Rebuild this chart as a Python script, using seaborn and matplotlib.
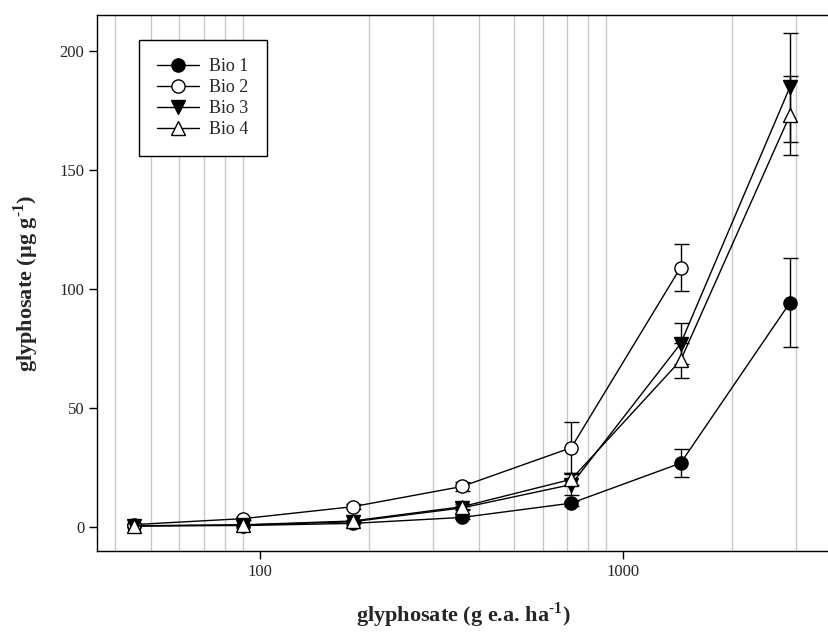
import numpy as np
import pandas as pd
import matplotlib
matplotlib.use("Agg")
import matplotlib.pyplot as plt
from matplotlib.ticker import NullFormatter, FixedLocator
import seaborn as sns

# Application rates (g e.a. ha-1)
doses = [45, 90, 180, 360, 720, 1440, 2880]

# Glyphosate content (ug g-1) and standard errors for each biotype
bio1 = [0.5, 0.6, 1.5, 4.0, 10.0, 26.8, 94.2]
bio1_err = [0.0, 0.0, 0.0, 0.8, 1.0, 5.8, 18.6]
bio2 = [1.0, 3.5, 8.5, 17.0, 33.3, 109.0]
bio2_err = [0.3, 0.5, 1.0, 2.0, 10.8, 9.8]
bio3 = [0.4, 0.8, 2.2, 8.0, 17.8, 77.0, 184.8]
bio3_err = [0.0, 0.0, 0.5, 1.0, 4.5, 8.7, 22.9]
bio4 = [0.5, 0.9, 2.5, 8.5, 20.0, 70.0, 173.0]
bio4_err = [0.0, 0.0, 0.5, 1.0, 2.5, 7.5, 16.6]

series_names = ["Bio 1", "Bio 2", "Bio 3", "Bio 4"]
series_vals = [bio1, bio2, bio3, bio4]
series_errs = [bio1_err, bio2_err, bio3_err, bio4_err]
markers = ["o", "o", "v", "^"]
faces = ["black", "white", "black", "white"]

sns.set_theme(style="ticks")
plt.rcParams["font.family"] = ["Liberation Serif", "DejaVu Serif"]
plt.rcParams["mathtext.fontset"] = "custom"
plt.rcParams["mathtext.rm"] = "Liberation Serif:bold"
plt.rcParams["mathtext.bf"] = "Liberation Serif:bold"

fig = plt.figure(figsize=(8.29, 6.33), dpi=100)
ax = fig.add_axes([97 / 829, 1 - 551 / 633, 1 - 97 / 829, (551 - 15) / 633])

ax.set_xscale("log")
ax.set_xlim(35.6, 3690)
ax.set_ylim(-10.1, 215.1)

# vertical grid on the minor decades only
minor_pos = [m * 10 ** e for e in (1, 2, 3) for m in range(2, 10)]
minor_pos = [v for v in minor_pos if 35.6 < v < 3690]
for v in minor_pos:
    ax.axvline(v, color="#c8c8c8", lw=1.0, zorder=0)

for name, vals, errs, mk, fc in zip(series_names, series_vals, series_errs, markers, faces):
    xs = doses[: len(vals)]
    df = pd.DataFrame({"dose": xs, "val": vals})
    sns.lineplot(data=df, x="dose", y="val", ax=ax, color="black", lw=1.0,
                 marker=mk, markersize=9.5, markerfacecolor=fc,
                 markeredgecolor="black", markeredgewidth=1.0,
                 label=name, zorder=3)
    sel = [i for i, e in enumerate(errs) if e > 0]
    ax.errorbar([xs[i] for i in sel], [vals[i] for i in sel],
                yerr=[errs[i] for i in sel], fmt="none", ecolor="black",
                elinewidth=1.0, capsize=5.4, capthick=1.0, zorder=2)

ax.xaxis.set_major_locator(FixedLocator([100, 1000]))
ax.set_xticklabels(["100", "1000"])
ax.xaxis.set_minor_locator(FixedLocator([]))
ax.xaxis.set_minor_formatter(NullFormatter())
ax.set_yticks([0, 50, 100, 150, 200])
ax.tick_params(axis="both", which="major", direction="out", length=5.5, width=1.0,
               labelsize=12, color="black", pad=3.6)

for side in ("left", "bottom", "top"):
    ax.spines[side].set_color("black")
    ax.spines[side].set_linewidth(1.0)
ax.spines["right"].set_visible(False)

ax.set_xlabel(r"glyphosate (g e.a. ha$^{\text{-}\mathbf{1}}$)", fontsize=16,
              fontweight="bold", labelpad=15)
ax.set_ylabel(r"glyphosate (µg g$^{\text{-}\mathbf{1}}$)", fontsize=16,
              fontweight="bold", labelpad=13)

leg = ax.legend(loc="upper left", bbox_to_anchor=(0.0574, 0.953), borderaxespad=0,
                frameon=True, fancybox=False, fontsize=13, handlelength=2.3,
                labelspacing=0.22, borderpad=1.0, handletextpad=0.6)
leg.get_frame().set_edgecolor("black")
leg.get_frame().set_linewidth(1.0)
leg.get_frame().set_alpha(1)

fig.savefig("out.png", dpi=100)
